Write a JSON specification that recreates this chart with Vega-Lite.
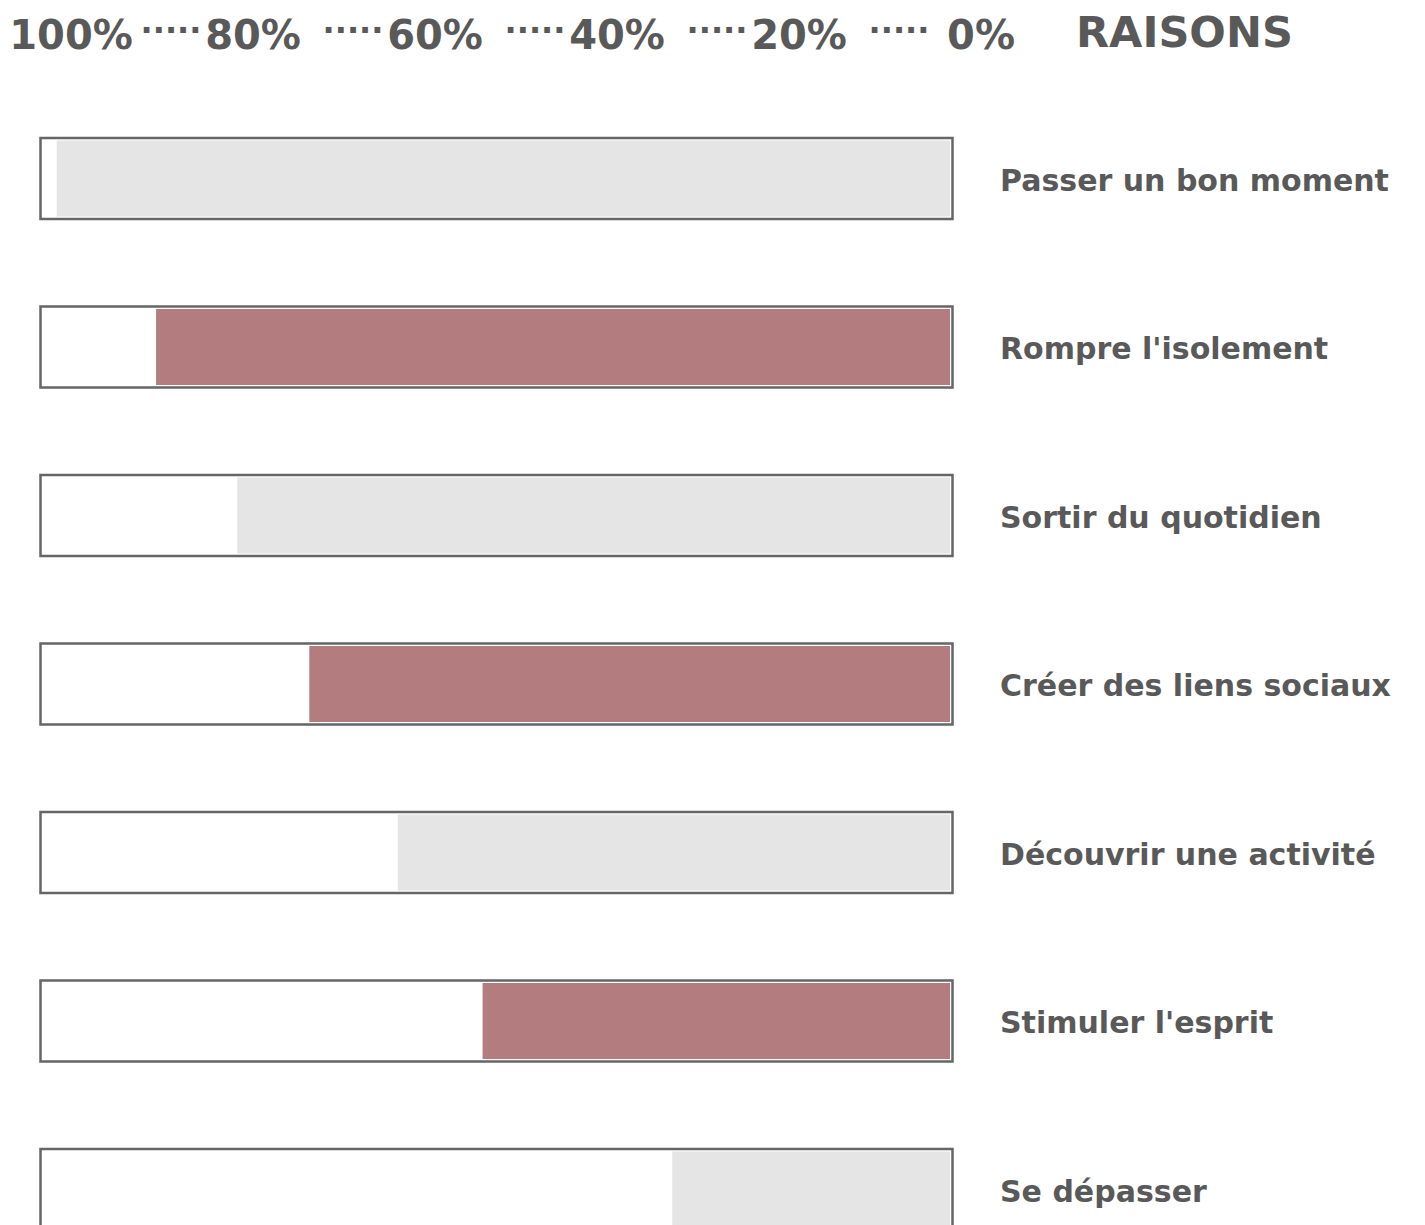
{
  "$schema": "https://vega.github.io/schema/vega-lite/v6.json",
  "padding": 0,
  "spacing": 0,
  "background": "white",
  "config": {
    "view": {"stroke": null},
    "axis": {"disable": true},
    "legend": {"disable": true},
    "font": "DejaVu Sans"
  },
  "resolve": {"scale": {"x": "independent", "y": "independent", "color": "independent"}},
  "vconcat": [
    {
      "width": 1425,
      "height": 90,
      "layer": [
        {
          "data": {"values": [
            {"etiquette": "100%", "valeur": 100},
            {"etiquette": "80%", "valeur": 80},
            {"etiquette": "60%", "valeur": 60},
            {"etiquette": "40%", "valeur": 40},
            {"etiquette": "20%", "valeur": 20},
            {"etiquette": "0%", "valeur": 0}
          ]},
          "mark": {"type": "text", "font": "DejaVu Sans", "fontSize": 40, "fontWeight": "bold", "fill": "#595959", "align": "center", "baseline": "alphabetic", "dy": 4},
          "encoding": {
            "x": {"field": "valeur", "type": "quantitative", "scale": {"domain": [0, 100], "range": [981, 71]}, "axis": null},
            "text": {"field": "etiquette"}
          }
        },
        {
          "data": {"values": [
            {"separateur": "·····", "valeur": 90},
            {"separateur": "·····", "valeur": 70},
            {"separateur": "·····", "valeur": 50},
            {"separateur": "·····", "valeur": 30},
            {"separateur": "·····", "valeur": 10}
          ]},
          "mark": {"type": "text", "font": "DejaVu Sans", "fontSize": 32, "fontWeight": "bold", "fill": "#595959", "align": "center", "baseline": "alphabetic", "dx": 9, "dy": -4},
          "encoding": {
            "x": {"field": "valeur", "type": "quantitative", "axis": null},
            "text": {"field": "separateur"}
          }
        },
        {
          "data": {"values": [{"titre": "RAISONS"}]},
          "mark": {"type": "text", "font": "DejaVu Sans", "fontSize": 43, "fontWeight": "bold", "fill": "#595959", "align": "left", "baseline": "alphabetic", "dx": 95, "dy": 2},
          "encoding": {
            "x": {"datum": 0},
            "text": {"field": "titre"}
          }
        }
      ]
    },
    {
      "width": 1425,
      "height": 1135,
      "data": {"values": [
        {"raison": "Passer un bon moment", "pourcentage": 98.5, "groupe": "gris"},
        {"raison": "Rompre l'isolement", "pourcentage": 87.6, "groupe": "mauve"},
        {"raison": "Sortir du quotidien", "pourcentage": 78.7, "groupe": "gris"},
        {"raison": "Créer des liens sociaux", "pourcentage": 70.8, "groupe": "mauve"},
        {"raison": "Découvrir une activité", "pourcentage": 61.1, "groupe": "gris"},
        {"raison": "Stimuler l'esprit", "pourcentage": 51.8, "groupe": "mauve"},
        {"raison": "Se dépasser", "pourcentage": 31.0, "groupe": "gris"}
      ]},
      "encoding": {
        "y": {
          "field": "raison",
          "type": "nominal",
          "scale": {
            "type": "point",
            "domain": ["Passer un bon moment", "Rompre l'isolement", "Sortir du quotidien", "Créer des liens sociaux", "Découvrir une activité", "Stimuler l'esprit", "Se dépasser"],
            "range": [88.5, 1099.5],
            "padding": 0
          },
          "axis": null
        }
      },
      "layer": [
        {
          "mark": {"type": "bar", "size": 81, "stroke": "white", "strokeWidth": 5},
          "encoding": {
            "x": {"field": "pourcentage", "type": "quantitative", "scale": {"domain": [0, 100], "range": [952.5, 40.5]}, "axis": null},
            "color": {"field": "groupe", "type": "nominal", "scale": {"domain": ["gris", "mauve"], "range": ["#e5e5e5", "#b37d80"]}, "legend": null}
          }
        },
        {
          "mark": {"type": "bar", "size": 81, "fill": "transparent", "stroke": "#666666", "strokeWidth": 2.5},
          "encoding": {
            "x": {"datum": 100},
            "x2": {"datum": 0}
          }
        },
        {
          "mark": {"type": "text", "font": "DejaVu Sans", "align": "left", "baseline": "alphabetic", "dx": 47.5, "dy": 12, "fontSize": 30, "fontWeight": "bold", "fill": "#595959"},
          "encoding": {
            "x": {"datum": 0},
            "text": {"field": "raison"}
          }
        }
      ]
    }
  ]
}
